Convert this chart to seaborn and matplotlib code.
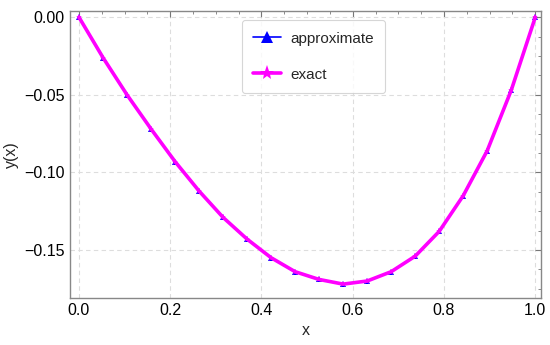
import numpy as np
import pandas as pd
import matplotlib
matplotlib.use("Agg")
import matplotlib.pyplot as plt
from matplotlib.ticker import AutoMinorLocator
import seaborn as sns

# sample points (20 equally spaced nodes on [0, 1])
x_nodes = [0.0, 0.0526, 0.1053, 0.1579, 0.2105, 0.2632, 0.3158, 0.3684, 0.4211, 0.4737,
           0.5263, 0.5789, 0.6316, 0.6842, 0.7368, 0.7895, 0.8421, 0.8947, 0.9474, 1.0]
y_approx = [0.0, -0.026, -0.050, -0.072, -0.093, -0.112, -0.129, -0.143, -0.155, -0.164,
            -0.169, -0.172, -0.170, -0.164, -0.154, -0.138, -0.115, -0.086, -0.047, 0.0]
y_exact = [0.0, -0.026, -0.050, -0.072, -0.093, -0.112, -0.129, -0.143, -0.155, -0.164,
           -0.169, -0.172, -0.170, -0.164, -0.154, -0.138, -0.115, -0.086, -0.047, 0.0]

sns.set_style("white")
plt.rcParams['font.family'] = ['Liberation Sans', 'DejaVu Sans']

df = pd.DataFrame({
    "x": x_nodes * 2,
    "y": y_approx + y_exact,
    "series": ["approximate"] * len(x_nodes) + ["exact"] * len(x_nodes),
})

fig = plt.figure(figsize=(5.5, 3.45), dpi=100)
ax = fig.add_axes([0.127, 0.136, 0.857, 0.832])

sns.lineplot(data=df[df.series == "approximate"], x="x", y="y", color="blue",
             marker="^", markersize=4, markeredgewidth=0, linewidth=1.2,
             label="approximate", ax=ax, zorder=3)
sns.lineplot(data=df[df.series == "exact"], x="x", y="y", color="magenta",
             marker="*", markersize=5, markeredgewidth=0, linewidth=2.6,
             label="exact", ax=ax, zorder=4)

ax.set_xlim(-0.02, 1.013)
ax.set_ylim(-0.181, 0.004)
ax.set_xticks([0.0, 0.2, 0.4, 0.6, 0.8, 1.0])
ax.set_yticks([0.0, -0.05, -0.10, -0.15])
ax.set_yticklabels(["0.00", "\u22120.05", "\u22120.10", "\u22120.15"])
ax.xaxis.set_minor_locator(AutoMinorLocator(4))
ax.yaxis.set_minor_locator(AutoMinorLocator(4))
ax.tick_params(which="both", direction="in", top=True, right=True, color="#777777",
               labelsize=11.5, labelcolor="black")
ax.tick_params(which="major", length=4, width=0.8)
ax.tick_params(which="minor", length=2.5, width=0.6)
for s in ax.spines.values():
    s.set_color("#888888")
    s.set_linewidth(1.0)
ax.grid(True, which="major", linestyle=(0, (4, 3)), color="#dddddd", linewidth=0.8)

ax.set_xlabel("x", fontsize=11.5)
ax.set_ylabel("y(x)", fontsize=11.5)

leg = ax.legend(loc="upper left", bbox_to_anchor=(0.365, 0.968), fontsize=11,
                frameon=True, fancybox=True, edgecolor="#cccccc", labelspacing=1.45,
                handlelength=1.8, handletextpad=0.6, borderpad=0.75, borderaxespad=0,
                markerscale=2.2)
leg.get_frame().set_linewidth(0.8)

fig.savefig("out.png", dpi=100)
